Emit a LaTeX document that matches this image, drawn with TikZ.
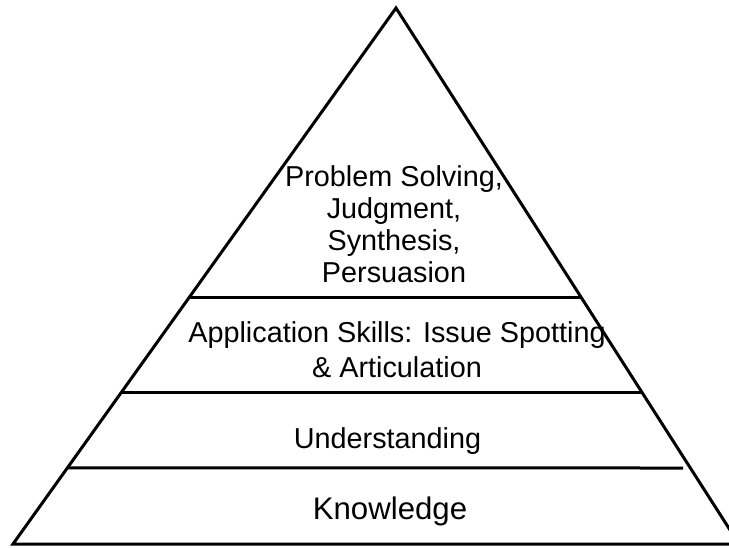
\documentclass[tikz,border=0pt]{standalone}
\usepackage{fontspec}
\setmainfont{Liberation Sans}
\usetikzlibrary{calc}

\begin{document}
\begin{tikzpicture}
            [x=0.5pt,y=-0.5pt,line width=1.5pt,every node/.style={inner sep=0pt,align=center}]
            \clip (0,0) rectangle (729,547);
            \coordinate (T) at (396,8);
            \coordinate (L) at (13,544);
            \coordinate (R) at (739,544);
            
            % outline
            \draw (L) -- (T) -- (R) -- cycle;
            
            % levels
            \draw ($(T)!0.541!(L)$) -- ($(T)!0.541!(R)$);
            \draw ($(T)!0.718!(L)$) -- ($(T)!0.718!(R)$);
            \draw ($(T)!0.858!(L)$) -- (683,468);
            
            % labels
            \node[anchor=north,font=\fontsize{14.4}{16}\selectfont] (P) at (394,164)
                {Problem Solving,\\Judgment,\\Synthesis,\\Persuasion};
            \node[anchor=north,font=\fontsize{14.4}{17.5}\selectfont] (A) at (397,320)
                {Application Skills: Issue Spotting\\\& Articulation};
            \node[anchor=base,font=\fontsize{14.4}{17}\selectfont] (U) at (387.5,448) {Understanding};
            \node[anchor=base,font=\fontsize{15.6}{18}\selectfont] (K) at (390,519) {Knowledge};
        \end{tikzpicture}
\end{document}
